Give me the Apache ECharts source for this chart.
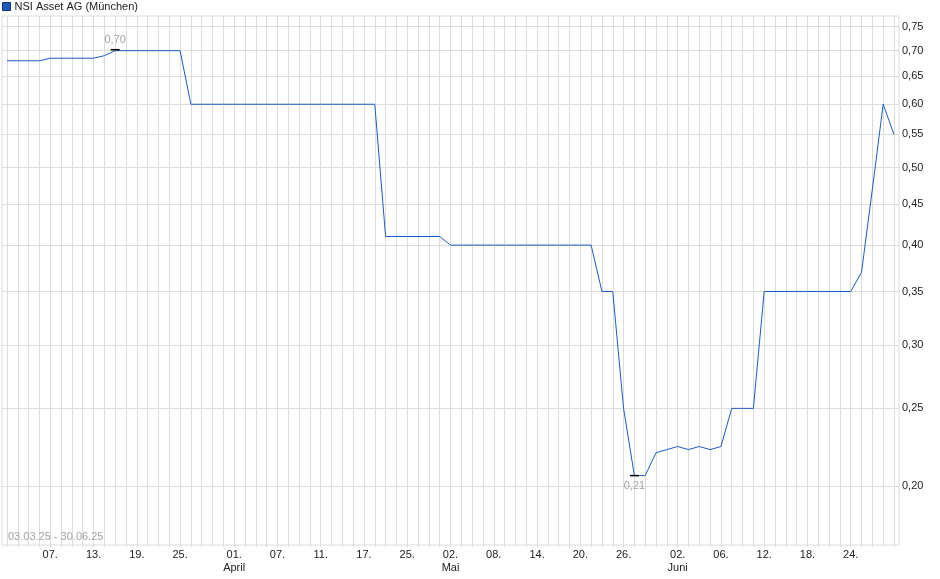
<!DOCTYPE html>
<html>
<head>
<meta charset="utf-8">
<title>NSI Asset AG (München)</title>
<script src="https://cdn.jsdelivr.net/npm/echarts@6.0.0/dist/echarts.min.js"></script>
<style>
	html, body { margin: 0; padding: 0; background: #fff; }
	#chart { width: 940px; height: 579px; }
</style>
</head>
<body>
<div id="chart"></div>
<script>
/* data */
var seriesName = 'NSI Asset AG (München)';
var rangeText = '03.03.25 - 30.06.25';

var dates = [
	'2025-03-03','2025-03-04','2025-03-05','2025-03-06','2025-03-07','2025-03-10','2025-03-11',
	'2025-03-12','2025-03-13','2025-03-14','2025-03-17','2025-03-18','2025-03-19','2025-03-20',
	'2025-03-21','2025-03-24','2025-03-25','2025-03-26','2025-03-27','2025-03-28','2025-03-31',
	'2025-04-01','2025-04-02','2025-04-03','2025-04-04','2025-04-07','2025-04-08','2025-04-09',
	'2025-04-10','2025-04-11','2025-04-14','2025-04-15','2025-04-16','2025-04-17','2025-04-22',
	'2025-04-23','2025-04-24','2025-04-25','2025-04-28','2025-04-29','2025-04-30',
	'2025-05-02','2025-05-05','2025-05-06','2025-05-07','2025-05-08','2025-05-09','2025-05-12',
	'2025-05-13','2025-05-14','2025-05-15','2025-05-16','2025-05-19','2025-05-20','2025-05-21',
	'2025-05-22','2025-05-23','2025-05-26','2025-05-27','2025-05-28','2025-05-29','2025-05-30',
	'2025-06-02','2025-06-03','2025-06-04','2025-06-05','2025-06-06','2025-06-09','2025-06-10',
	'2025-06-11','2025-06-12','2025-06-13','2025-06-16','2025-06-17','2025-06-18','2025-06-19',
	'2025-06-20','2025-06-23','2025-06-24','2025-06-25','2025-06-26','2025-06-27','2025-06-30'
];

var prices = [
	0.68, 0.68, 0.68, 0.68, 0.685, 0.685, 0.685,
	0.685, 0.685, 0.69, 0.70, 0.70, 0.70, 0.70,
	0.70, 0.70, 0.70, 0.60, 0.60, 0.60, 0.60,
	0.60, 0.60, 0.60, 0.60, 0.60, 0.60, 0.60,
	0.60, 0.60, 0.60, 0.60, 0.60, 0.60, 0.60,
	0.41, 0.41, 0.41, 0.41, 0.41, 0.41,
	0.40, 0.40, 0.40, 0.40, 0.40, 0.40, 0.40,
	0.40, 0.40, 0.40, 0.40, 0.40, 0.40, 0.40,
	0.35, 0.35, 0.25, 0.206, 0.206, 0.22, 0.222,
	0.224, 0.222, 0.224, 0.222, 0.224, 0.25, 0.25,
	0.25, 0.35, 0.35, 0.35, 0.35, 0.35, 0.35,
	0.35, 0.35, 0.35, 0.37, 0.47, 0.60, 0.55
];

var tickDates = [
	'2025-03-07','2025-03-13','2025-03-19','2025-03-25',
	'2025-04-01','2025-04-07','2025-04-11','2025-04-17','2025-04-25',
	'2025-05-02','2025-05-08','2025-05-14','2025-05-20','2025-05-26',
	'2025-06-02','2025-06-06','2025-06-12','2025-06-18','2025-06-24'
];
var monthNames = { '04': 'April', '05': 'Mai', '06': 'Juni' };

var yTicks = [0.20, 0.25, 0.30, 0.35, 0.40, 0.45, 0.50, 0.55, 0.60, 0.65, 0.70, 0.75];
var yMin = 0.1687;
var yMax = 0.7735;

/* helpers */
function fmtPrice(v) {
	return (Math.round(v * 100) / 100).toFixed(2).replace('.', ',');
}
function isMonthStart(i) {
	return i > 0 && dates[i].slice(5, 7) !== dates[i - 1].slice(5, 7);
}

var gridColor = '#dcdcdc';
var lineColor = '#1d5bc2';
var font = 'Liberation Sans, Arial, sans-serif';

var option = {
	animation: false,
	textStyle: { fontFamily: font },
	title: {
		text: rangeText,
		left: 3,
		top: 526,
		textStyle: { fontSize: 11, fontWeight: 'normal', color: '#a3a3a3', fontFamily: font }
	},
	legend: {
		left: 0,
		top: 0,
		padding: [1, 2],
		itemWidth: 8,
		itemHeight: 8,
		itemGap: 10,
		icon: 'rect',
		textStyle: { fontSize: 11, color: '#222', fontFamily: font, padding: [0, 0, 0, -1] },
		itemStyle: { borderColor: '#13306a', borderWidth: 1 },
		data: [seriesName]
	},
	grid: [
		{ left: 7, right: 46, top: 16, bottom: 34, containLabel: false },
		{ left: 2, right: 41, top: 16, bottom: 34, containLabel: false,
		  show: true, borderColor: gridColor, borderWidth: 1, backgroundColor: 'transparent' }
	],
	xAxis: [
		{
			gridIndex: 0,
			type: 'category',
			data: dates,
			boundaryGap: false,
			axisLine: { show: false },
			axisTick: { show: true, interval: 0, length: 2, lineStyle: { color: gridColor } },
			splitLine: { show: true, interval: 0, lineStyle: { color: gridColor, width: 1 } },
			axisLabel: {
				interval: function (index) {
					return tickDates.indexOf(dates[index]) >= 0;
				},
				margin: 3,
				fontSize: 11,
				lineHeight: 13,
				color: '#222',
				fontFamily: font,
				formatter: function (value, index) {
					var day = value.slice(8, 10) + '.';
					if (isMonthStart(index)) {
						return day + '\n' + monthNames[value.slice(5, 7)];
					}
					return day;
				}
			}
		},
		{ gridIndex: 1, type: 'value', min: 0, max: 1, show: false }
	],
	yAxis: [
		{ gridIndex: 0, type: 'value', min: Math.log(yMin), max: Math.log(yMax), show: false },
		{
			gridIndex: 1,
			type: 'value',
			position: 'right',
			min: Math.log(yMin),
			max: Math.log(yMax),
			axisLine: { show: false },
			axisTick: { show: false, customValues: yTicks.map(Math.log) },
			splitLine: { show: true, lineStyle: { color: gridColor, width: 1 } },
			axisLabel: {
				customValues: yTicks.map(Math.log),
				margin: 3,
				fontSize: 11,
				color: '#222',
				fontFamily: font,
				formatter: function (v) { return fmtPrice(Math.exp(v)); }
			}
		}
	],
	series: [{
		name: seriesName,
		type: 'line',
		xAxisIndex: 0,
		yAxisIndex: 0,
		data: prices.map(Math.log),
		showSymbol: false,
		symbol: 'none',
		color: lineColor,
		lineStyle: { color: lineColor, width: 1 },
		markPoint: {
			symbol: 'rect',
			symbolSize: [9, 1.5],
			itemStyle: { color: '#000' },
			label: {
				show: true,
				fontSize: 11,
				color: '#a3a3a3',
				fontFamily: font,
				formatter: function (p) { return fmtPrice(Math.exp(p.value)); }
			},
			data: [
				{ type: 'max', symbolOffset: [0, -1], label: { position: 'top', distance: 3 } },
				{ type: 'min', symbolOffset: [0, 0], label: { position: 'bottom', distance: 4 } }
			]
		}
	}]
};

var chart = echarts.init(document.getElementById('chart'));
chart.setOption(option);
window.addEventListener('resize', function () {
	chart.resize();
});
</script>
</body>
</html>
